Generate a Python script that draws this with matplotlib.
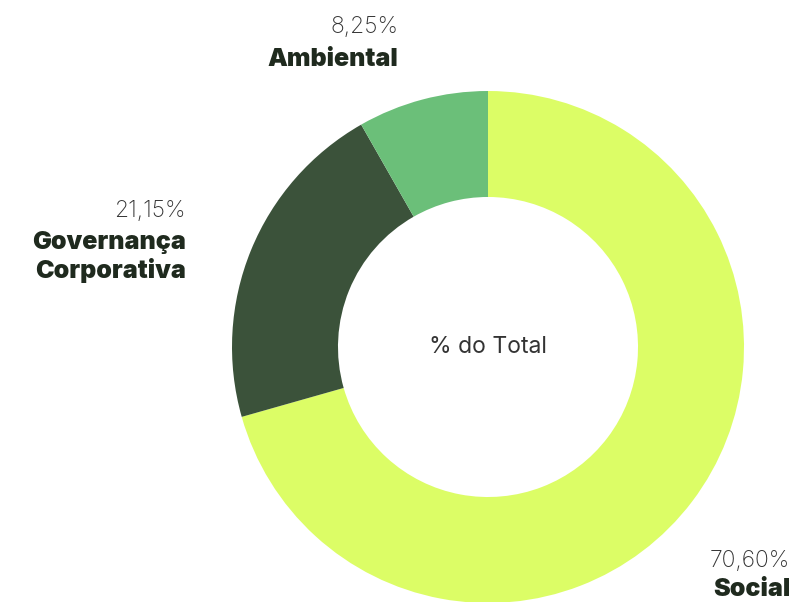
import matplotlib as mpl
import matplotlib.pyplot as plt

mpl.rcParams['font.family'] = ['Inter', 'DejaVu Sans']

# shares, drawn clockwise from 12 o'clock
categorias = ['Social', 'Governança\nCorporativa', 'Ambiental']
valores = [70.60, 21.15, 8.25]
cores = ['#dcfd66', '#3b523a', '#6bbf79']

W, H = 798, 602

fig = plt.figure(figsize=(W / 100, H / 100), dpi=100)
ax = fig.add_axes([0, 0, 1, 1])

cx, cy = 488, H - 347
raio = 256
ax.pie(valores, colors=cores, startangle=90, counterclock=False,
       center=(cx, cy), radius=raio, frame=True,
       wedgeprops=dict(width=raio * 0.414, linewidth=0))
ax.set_xlim(0, W)
ax.set_ylim(0, H)
ax.set_aspect('equal')
ax.axis('off')

ax.text(cx, cy, '% do Total', ha='center', va='center', fontsize=16.5, color='#333333')

def fmt(v):
    return '{:.2f}%'.format(v).replace('.', ',')

# rótulos: (x direito, y do valor, y do nome)
pos = [(790, 561, 590), (186, 211, 257), (398, 27, 59)]
for nome, v, (x, yv, yn) in zip(categorias, valores, pos):
    ax.text(x, H - yv, fmt(v), ha='right', va='center', fontsize=16.5,
            color='#333333', fontweight='light')
    ax.text(x, H - yn, nome, ha='right', va='center', fontsize=18,
            fontweight='black', color='#1f2a1e', linespacing=1.2)

fig.savefig('out.png', dpi=100)
